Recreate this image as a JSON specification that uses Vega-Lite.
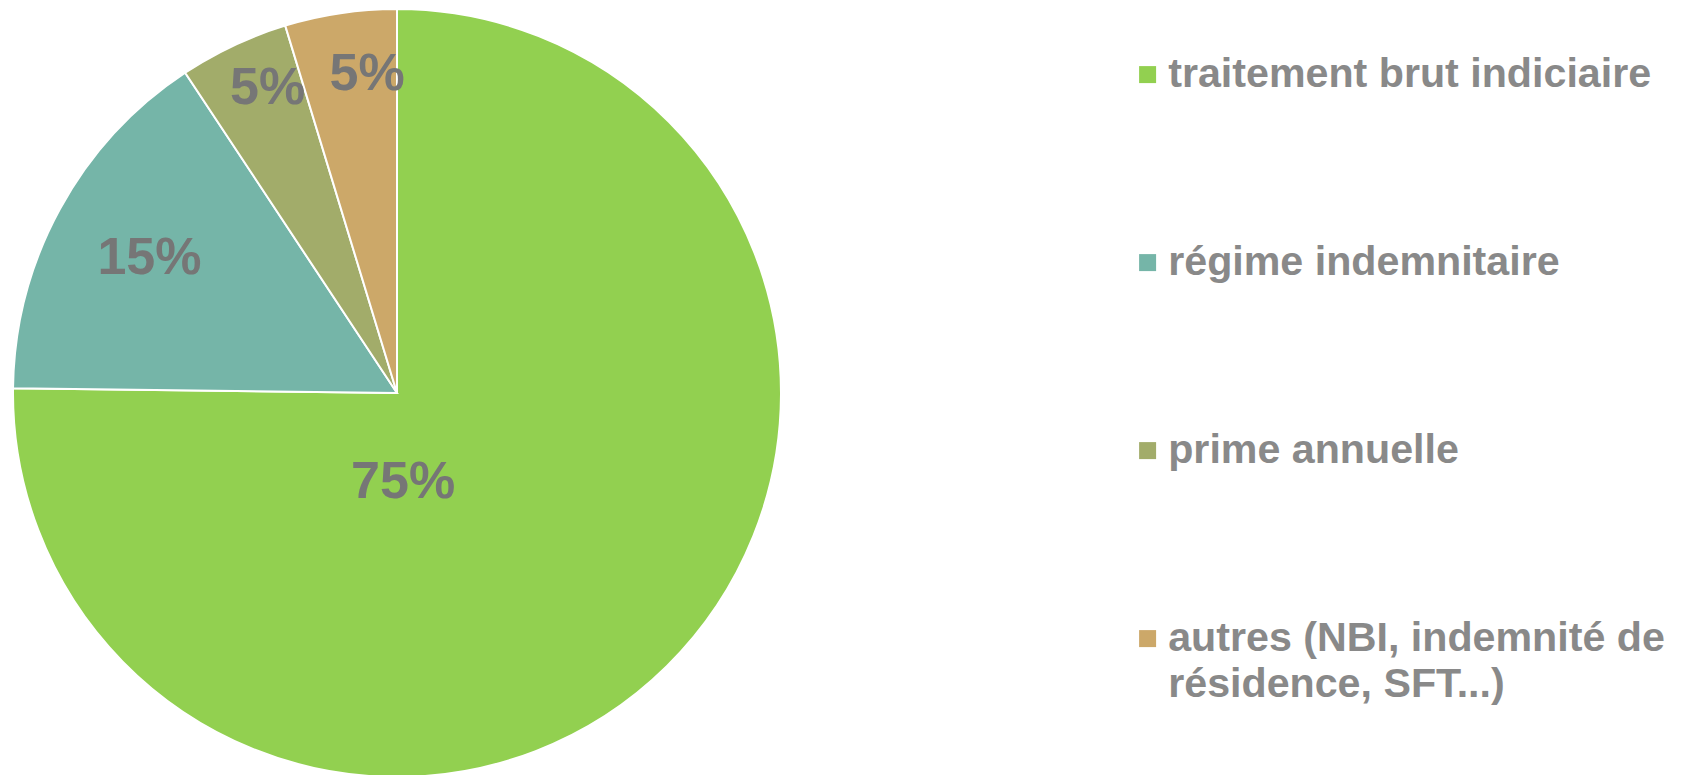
{
  "$schema": "https://vega.github.io/schema/vega-lite/v6.json",
  "width": 794,
  "height": 764,
  "autosize": {"type": "none"},
  "padding": {"left": 0, "top": 11, "right": 890, "bottom": 0},
  "background": "white",
  "data": {
    "values": [
      {"category": "traitement brut indiciaire", "value": 75.2, "label": "75%", "order": 1},
      {"category": "régime indemnitaire", "value": 15.5, "label": "15%", "order": 2},
      {"category": "prime annuelle", "value": 4.6, "label": "5%", "order": 3},
      {"category": "autres (NBI, indemnité de résidence, SFT...)", "value": 4.7, "label": "5%", "order": 4}
    ]
  },
  "encoding": {
    "theta": {"field": "value", "type": "quantitative", "stack": true},
    "order": {"field": "order", "type": "quantitative"},
    "color": {
      "field": "category",
      "type": "nominal",
      "sort": ["traitement brut indiciaire", "régime indemnitaire", "prime annuelle", "autres (NBI, indemnité de résidence, SFT...)"],
      "scale": {
        "domain": ["traitement brut indiciaire", "régime indemnitaire", "prime annuelle", "autres (NBI, indemnité de résidence, SFT...)"],
        "range": ["#92D050", "#75B5A8", "#A2AC6A", "#CCA869"]
      },
      "legend": {
        "title": null,
        "orient": "none",
        "legendX": 1127,
        "legendY": 43,
        "padding": 0,
        "symbolType": "square",
        "symbolSize": 289,
        "symbolStrokeWidth": 0,
        "labelFontSize": 41.2,
        "labelFont": "Liberation Sans",
        "labelFontWeight": "bold",
        "labelColor": "#898989",
        "labelLimit": 700,
        "labelOffset": 0,
        "rowPadding": 146,
        "labelExpr": "indexof(datum.label, 'autres') == 0 ? ['autres (NBI, indemnité de', 'résidence, SFT...)'] : datum.label"
      }
    }
  },
  "layer": [
    {
      "mark": {"type": "arc", "outerRadius": 384, "stroke": "white", "strokeWidth": 2}
    },
    {
      "mark": {
        "type": "text",
        "radius": {"expr": "datum.order == 1 ? 89 : (datum.order == 2 ? 282 : (datum.order == 3 ? 331 : 320))"},
        "thetaOffset": {"expr": "datum.order == 1 ? 0.71 : (datum.order == 3 ? 0.038 : (datum.order == 4 ? 0.054 : 0))"},
        "font": "Liberation Sans",
        "fontWeight": "bold",
        "fontSize": 52,
        "align": "center",
        "baseline": "middle"
      },
      "encoding": {
        "text": {"field": "label"},
        "color": {"value": "#767676"}
      }
    }
  ],
  "config": {
    "view": {"stroke": null},
    "style": {"guide-label": {"lineHeight": 46}}
  }
}
